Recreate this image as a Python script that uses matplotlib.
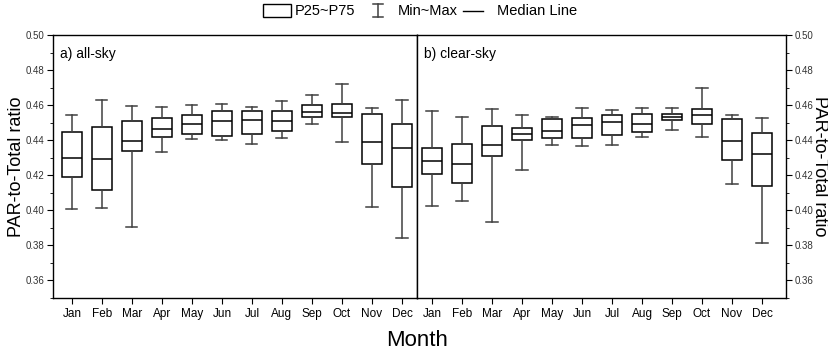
import matplotlib
matplotlib.use('Agg')
import matplotlib.pyplot as plt
from matplotlib.patches import Rectangle
from matplotlib.lines import Line2D
from matplotlib.ticker import MultipleLocator

plt.rcParams['font.family'] = ['Liberation Sans', 'DejaVu Sans']

months = ['Jan', 'Feb', 'Mar', 'Apr', 'May', 'Jun', 'Jul', 'Aug', 'Sep', 'Oct', 'Nov', 'Dec']

# a) all-sky
all_min = [0.4010, 0.4015, 0.3907, 0.4330, 0.4408, 0.4404, 0.4380, 0.4412, 0.4494, 0.4391, 0.4017, 0.3845]
all_p25 = [0.4192, 0.4118, 0.4340, 0.4419, 0.4433, 0.4425, 0.4437, 0.4454, 0.4532, 0.4535, 0.4266, 0.4133]
all_med = [0.4296, 0.4294, 0.4395, 0.4463, 0.4492, 0.4507, 0.4514, 0.4512, 0.4560, 0.4558, 0.4389, 0.4353]
all_p75 = [0.4444, 0.4473, 0.4509, 0.4526, 0.4546, 0.4566, 0.4567, 0.4566, 0.4598, 0.4609, 0.4550, 0.4490]
all_max = [0.4546, 0.4630, 0.4594, 0.4592, 0.4598, 0.4607, 0.4590, 0.4624, 0.4657, 0.4723, 0.4585, 0.4630]

# b) clear-sky
clr_min = [0.4027, 0.4051, 0.3932, 0.4230, 0.4372, 0.4368, 0.4372, 0.4416, 0.4459, 0.4418, 0.4152, 0.3812]
clr_p25 = [0.4205, 0.4154, 0.4311, 0.4402, 0.4410, 0.4412, 0.4429, 0.4446, 0.4516, 0.4492, 0.4287, 0.4141]
clr_med = [0.4281, 0.4266, 0.4372, 0.4433, 0.4455, 0.4486, 0.4505, 0.4490, 0.4535, 0.4546, 0.4393, 0.4323]
clr_p75 = [0.4355, 0.4381, 0.4482, 0.4469, 0.4520, 0.4528, 0.4541, 0.4552, 0.4552, 0.4579, 0.4520, 0.4440]
clr_max = [0.4564, 0.4535, 0.4579, 0.4541, 0.4530, 0.4583, 0.4575, 0.4585, 0.4581, 0.4698, 0.4541, 0.4524]


def make_stats(lo, q1, med, q3, hi):
    return [dict(whislo=a, q1=b, med=c, q3=d, whishi=e, label=m)
            for a, b, c, d, e, m in zip(lo, q1, med, q3, hi, months)]


W, H = 829, 358
fig = plt.figure(figsize=(W / 100, H / 100), dpi=100)
ax1 = fig.add_axes([0.0639, 0.1676, 0.4391, 0.7346])
ax2 = fig.add_axes([0.5030, 0.1676, 0.4451, 0.7346])

box_kw = dict(
    widths=0.67, showfliers=False, patch_artist=True,
    boxprops=dict(facecolor='white', edgecolor='black', linewidth=1.1),
    medianprops=dict(color='black', linewidth=1.1),
    whiskerprops=dict(color='#404040', linewidth=1.1),
    capprops=dict(color='#404040', linewidth=1.1),
    capwidths=0.37,
)

ax1.bxp(make_stats(all_min, all_p25, all_med, all_p75, all_max), **box_kw)
ax2.bxp(make_stats(clr_min, clr_p25, clr_med, clr_p75, clr_max), **box_kw)

ax1.set_xlim(0.37, 12.5)
ax2.set_xlim(0.5, 12.8)

for ax in (ax1, ax2):
    ax.set_ylim(0.35, 0.50)
    ax.yaxis.set_major_locator(MultipleLocator(0.02))
    ax.yaxis.set_minor_locator(MultipleLocator(0.01))
    ax.yaxis.set_major_formatter(plt.FormatStrFormatter('%.2f'))
    ax.tick_params(axis='x', direction='out', length=4, labelsize=8.5, pad=3)
    ax.tick_params(axis='y', which='major', direction='out', length=4, labelsize=7,
                   labelcolor='#333333', pad=2)
    ax.tick_params(axis='y', which='minor', direction='out', length=2)
    for sp in ax.spines.values():
        sp.set_linewidth(1.0)
    ax.set_xticks(range(1, 13))
    ax.set_xticklabels(months)

ax2.yaxis.tick_right()
ax2.yaxis.set_label_position('right')

ax1.set_ylabel('PAR-to-Total ratio', fontsize=13, va='center')
ax1.yaxis.set_label_coords(-0.099, 0.5)
ax2.set_ylabel('PAR-to-Total ratio', fontsize=13, rotation=270, va='center')
ax2.yaxis.set_label_coords(1.092, 0.5)

ax1.text(0.02, 0.955, 'a) all-sky', transform=ax1.transAxes, fontsize=10, va='top')
ax2.text(0.02, 0.955, 'b) clear-sky', transform=ax2.transAxes, fontsize=10, va='top')

fig.text(0.503, 0.02, 'Month', ha='center', va='bottom', fontsize=16)

# legend drawn by hand at the top (pixel positions / figure size)
ly = 1 - 11 / H
fig.add_artist(Rectangle((263 / W, 1 - 17 / H), 28 / W, 13 / H, transform=fig.transFigure,
                         facecolor='white', edgecolor='black', linewidth=1.0))
fig.text(295 / W, ly, 'P25~P75', fontsize=10.5, va='center')
bx, bt, bb = 378 / W, 1 - 4 / H, 1 - 17 / H
fig.add_artist(Line2D([bx, bx], [bb, bt], transform=fig.transFigure, color='#404040', lw=1.1))
for yy in (bb, bt):
    fig.add_artist(Line2D([bx - 5 / W, bx + 5 / W], [yy, yy], transform=fig.transFigure,
                          color='#404040', lw=1.1))
fig.text(398 / W, ly, 'Min~Max', fontsize=10.5, va='center')
fig.add_artist(Line2D([463 / W, 483 / W], [ly, ly], transform=fig.transFigure, color='black', lw=1.0))
fig.text(497 / W, ly, 'Median Line', fontsize=10.5, va='center')

fig.savefig('out.png', dpi=100)
